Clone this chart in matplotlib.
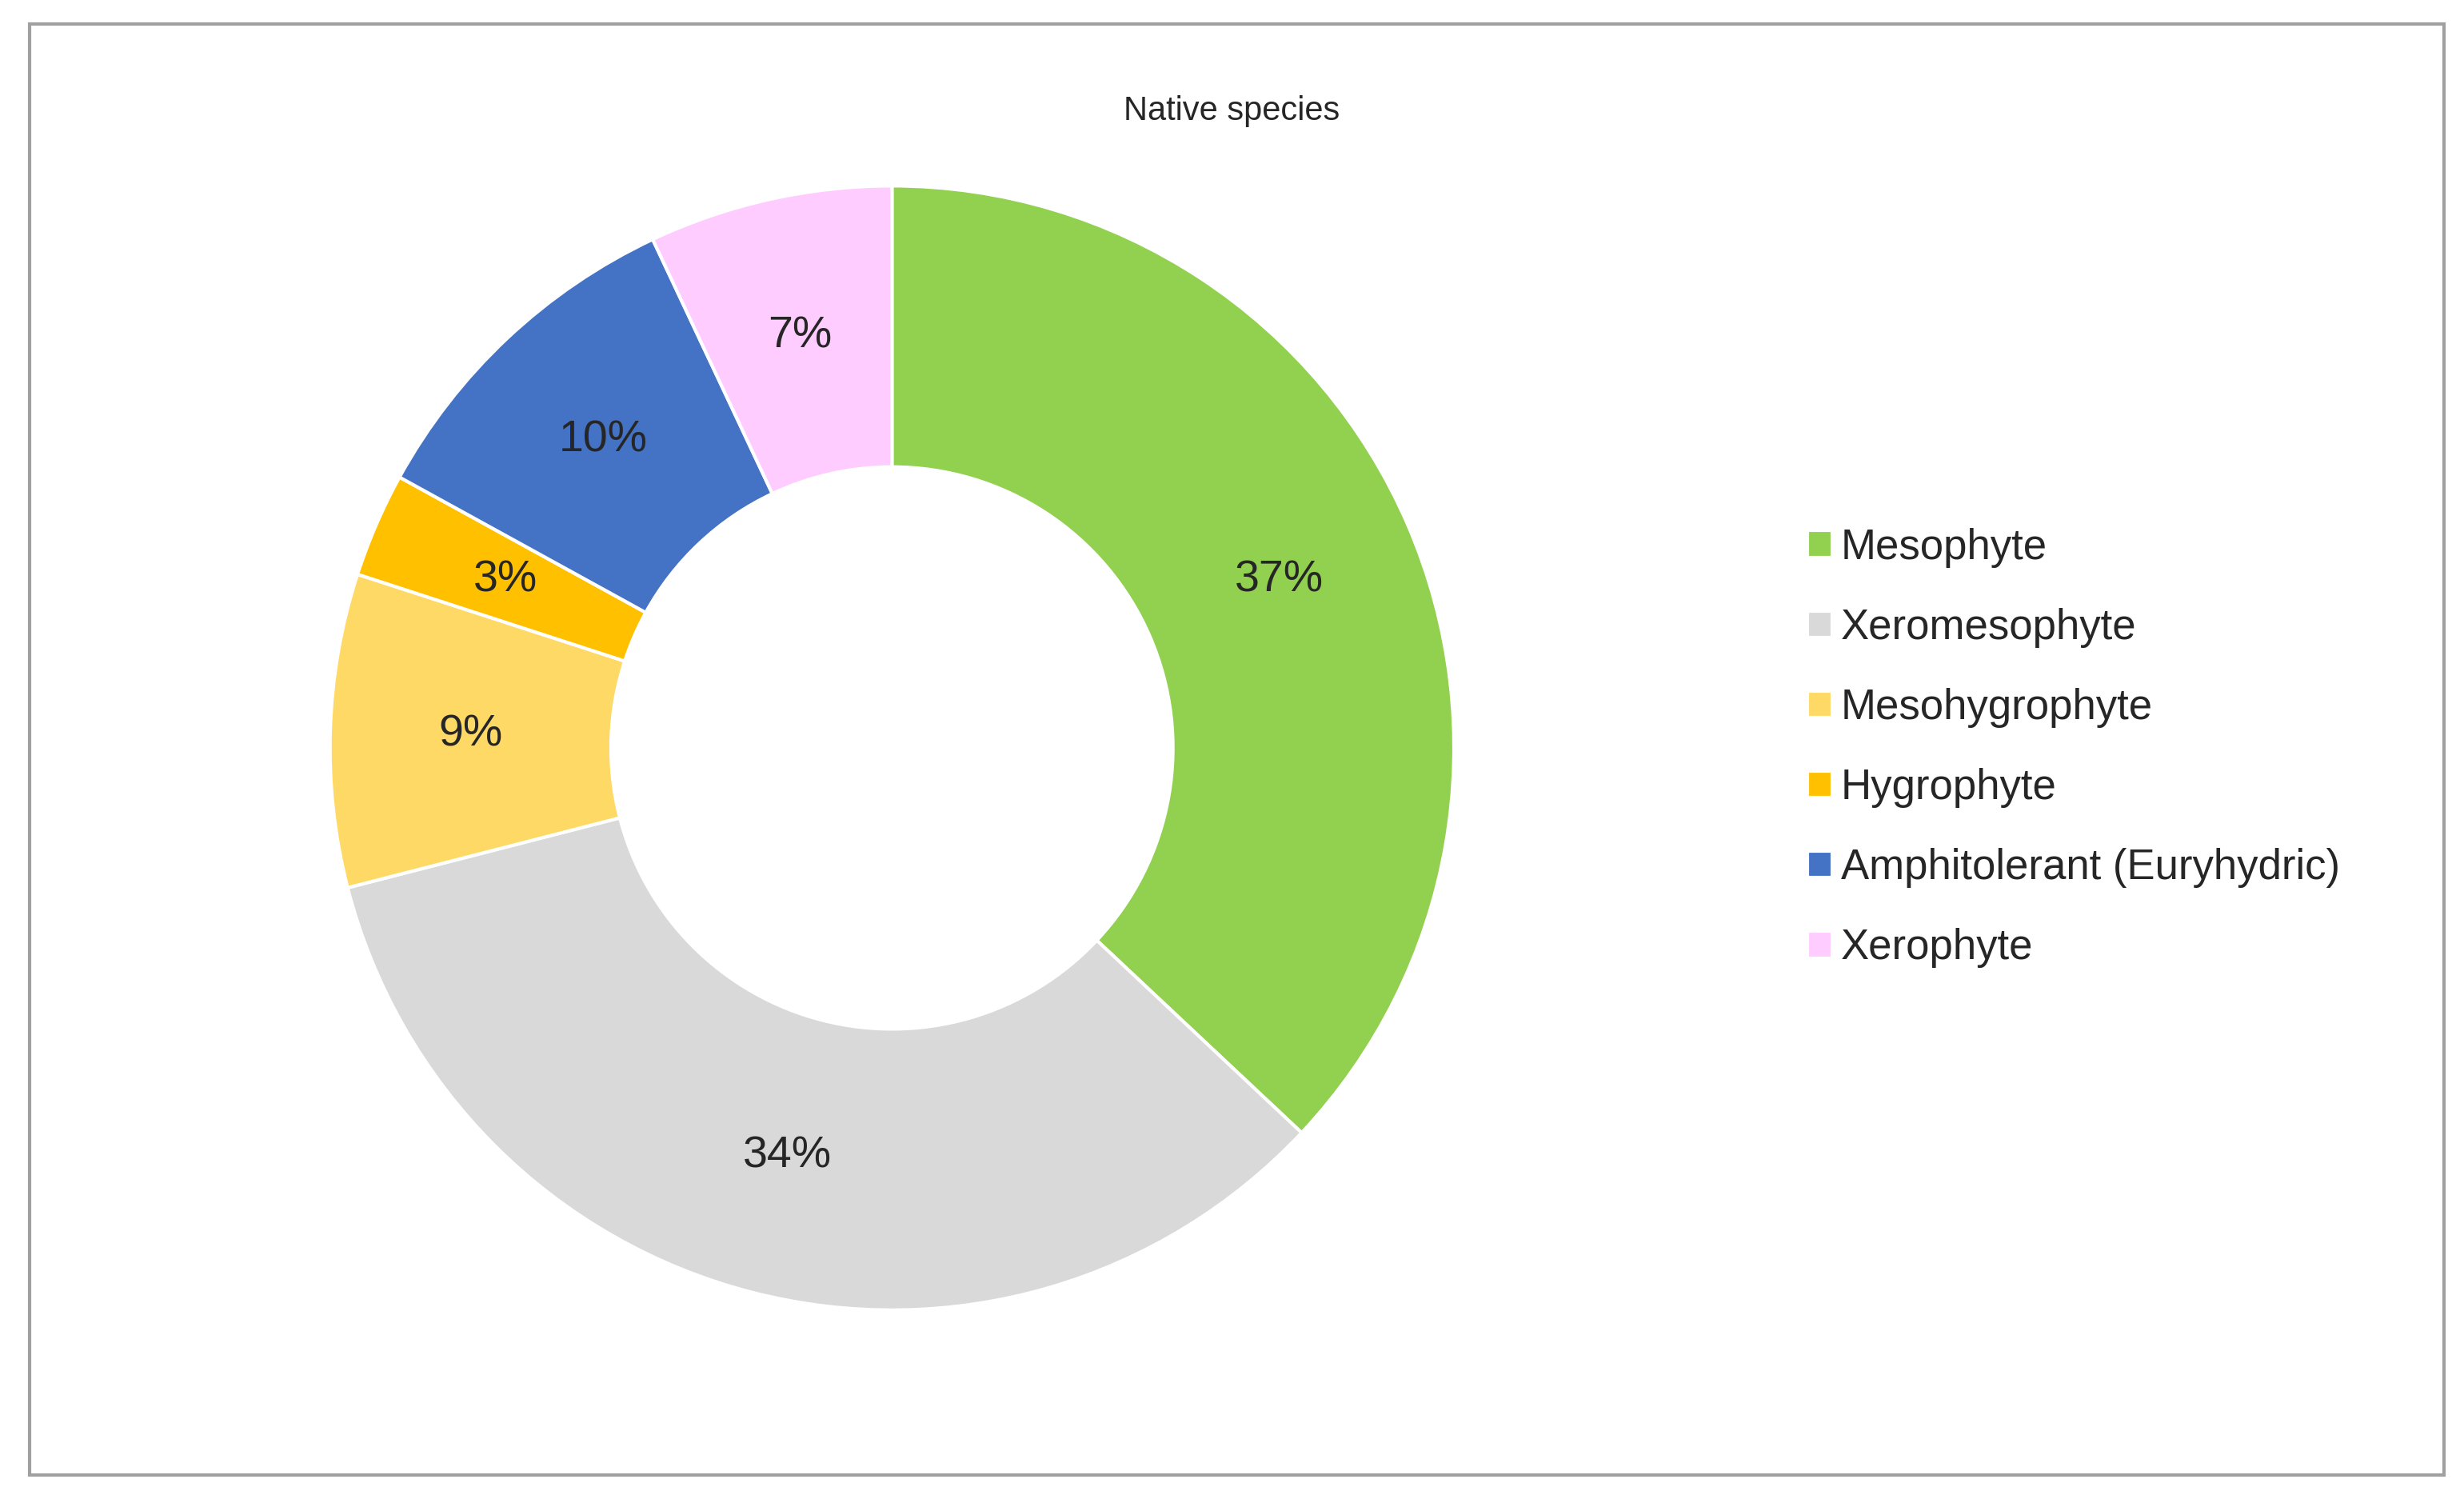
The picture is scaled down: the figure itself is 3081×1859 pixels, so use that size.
import matplotlib
matplotlib.use('Agg')
import matplotlib.pyplot as plt
from matplotlib.patches import Rectangle

plt.rcParams['font.family'] = ['Liberation Sans', 'DejaVu Sans']

categories = ['Mesophyte', 'Xeromesophyte', 'Mesohygrophyte', 'Hygrophyte',
              'Amphitolerant (Euryhydric)', 'Xerophyte']
values = [37, 34, 9, 3, 10, 7]
colors = ['#92D050', '#D9D9D9', '#FFD966', '#FFC000', '#4472C4', '#FFCCFF']

fig = plt.figure(figsize=(15.405, 9.295), dpi=200)
fig.patches.append(Rectangle((0.012, 0.008), 0.98, 0.976, transform=fig.transFigure,
                             fill=False, edgecolor='#A0A0A0', linewidth=1.5))

rh = 0.378
rw = rh * 9.295 / 15.405
cx, cy = 0.362, 0.497
ax = fig.add_axes([cx - rw, cy - rh, 2 * rw, 2 * rh])
wedges, texts, autotexts = ax.pie(values, colors=colors, startangle=90, counterclock=False,
                                  autopct='%d%%', pctdistance=0.75,
                                  wedgeprops=dict(width=0.5, edgecolor='white', linewidth=1.5),
                                  textprops=dict(fontsize=20, color='#262626'))
ax.set_xlim(-1, 1)
ax.set_ylim(-1, 1)
ax.set_aspect('equal')

fig.text(0.5, 0.925, 'Native species', ha='center', va='center', fontsize=15, color='#262626')

fig.legend(wedges, categories, loc='center left', bbox_to_anchor=(0.718, 0.497),
           frameon=False, fontsize=19, labelspacing=0.95, handlelength=0.6,
           handleheight=0.6, handletextpad=0.2, labelcolor='#262626')

fig.savefig('out.png', dpi=200)
